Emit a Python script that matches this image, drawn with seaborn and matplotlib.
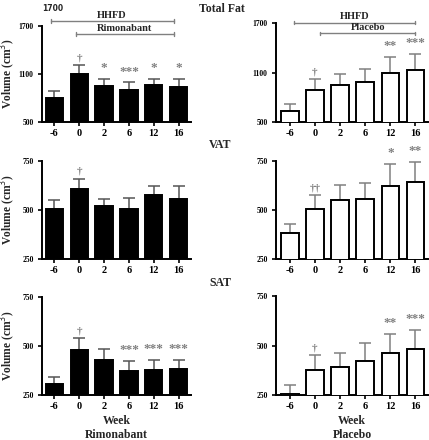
import matplotlib
matplotlib.use("Agg")
import matplotlib.pyplot as plt
import seaborn as sns
import pandas as pd

sns.set_style("ticks")
plt.rcParams['font.family'] = ['Liberation Serif', 'DejaVu Serif']

weeks = ["-6", "0", "2", "6", "12", "16"]

# Rimonabant (left column)
rim_total = [805, 1095, 955, 895, 958, 933]
rim_total_err = [82, 117, 87, 100, 83, 108]
rim_vat = [502, 608, 520, 505, 574, 557]
rim_vat_err = [46, 51, 36, 54, 48, 63]
rim_sat = [309, 478, 427, 372, 380, 382]
rim_sat_err = [32, 61, 56, 52, 47, 45]

# Placebo (right column)
pla_total = [635, 884, 946, 982, 1092, 1129]
pla_total_err = [86, 135, 134, 163, 204, 196]
pla_vat = [382, 505, 549, 554, 623, 640]
pla_vat_err = [47, 69, 76, 85, 112, 102]
pla_sat = [258, 377, 395, 425, 464, 481]
pla_sat_err = [46, 74, 70, 88, 97, 98]

rim_total_marks = ["", "†", "*", "***", "*", "*"]
rim_vat_marks = ["", "†", "", "", "", ""]
rim_sat_marks = ["", "†", "", "***", "***", "***"]
pla_total_marks = ["", "†", "", "", "**", "***"]
pla_vat_marks = ["", "††", "", "", "*", "**"]
pla_sat_marks = ["", "†", "", "", "**", "***"]

row_titles = ["Total Fat", "VAT", "SAT"]
col_titles = ["Rimonabant", "Placebo"]
ylims = [(500, 1700), (250, 750), (250, 750)]
yticks = [[500, 1100, 1700], [250, 500, 750], [250, 500, 750]]

fig = plt.figure(figsize=(4.29, 4.40), dpi=100)

W, H = 429.0, 440.0
def box(x0, y0, x1, y1):
    return [x0 / W, 1 - y1 / H, (x1 - x0) / W, (y1 - y0) / H]

pos = [
    [box(42, 26, 191, 122), box(276, 23.5, 428, 121.7)],
    [box(42, 160.7, 191, 259), box(276, 160.7, 428, 259.3)],
    [box(42, 296.7, 191, 395.3), box(276, 296, 428, 395.3)],
]

data = [
    [(rim_total, rim_total_err, rim_total_marks), (pla_total, pla_total_err, pla_total_marks)],
    [(rim_vat, rim_vat_err, rim_vat_marks), (pla_vat, pla_vat_err, pla_vat_marks)],
    [(rim_sat, rim_sat_err, rim_sat_marks), (pla_sat, pla_sat_err, pla_sat_marks)],
]

gray = "#808080"
axes = {}
for r in range(3):
    for c in range(2):
        ax = fig.add_axes(pos[r][c])
        axes[(r, c)] = ax
        vals, errs, marks = data[r][c]
        df = pd.DataFrame({"week": weeks, "vol": vals})
        face = "black" if c == 0 else "white"
        sns.barplot(data=df, x="week", y="vol", order=weeks, ax=ax,
                    color=face, edgecolor="black", linewidth=1.4,
                    width=0.7, errorbar=None, saturation=1, zorder=3)
        xs = list(range(len(weeks)))
        ecol = "#555555" if c == 0 else gray
        ax.errorbar(xs, vals, yerr=[[0] * len(vals), errs], fmt="none",
                    ecolor=ecol, elinewidth=1.1, capsize=4, capthick=1.1, zorder=2)
        lo, hi = ylims[r]
        span = hi - lo
        for x, v, e, m in zip(xs, vals, errs, marks):
            if m:
                dag = "†" in m
                fs = 8 if dag else 9.5
                off = 0.03 if dag else 0.05
                ax.text(x, v + e + span * off, m, ha="center", va="bottom",
                        color=gray, fontsize=fs, fontweight="bold",
                        family=['Liberation Serif', 'DejaVu Sans'])
        ax.set_ylim(lo, hi)
        ax.set_xlim(-0.5 if c == 0 else -0.55, 5.5)
        ax.set_yticks(yticks[r])
        ax.set_yticklabels([str(t) for t in yticks[r]], fontsize=5.5, fontweight="bold")
        ax.set_xticks(xs)
        ax.set_xticklabels(weeks, fontsize=7.5, fontweight="bold")
        ax.set_xlabel("")
        ax.set_ylabel("")
        for s in ["top", "right"]:
            ax.spines[s].set_visible(False)
        for s in ["left", "bottom"]:
            ax.spines[s].set_linewidth(1.4)
            ax.spines[s].set_color("black")
        ax.tick_params(axis="both", width=1.2, length=3, pad=2, colors="black")
        ax.tick_params(axis="y", pad=3)
        ax.set_facecolor("white")
        if c == 0:
            ax.set_ylabel("Volume (cm$^3$)", fontsize=8.3, fontweight="bold", va="center")
            ax.yaxis.set_label_coords(-0.222, 0.5)
        if r == 2:
            ax.set_xlabel("Week", fontsize=8.5, fontweight="bold", labelpad=3)

# Row titles
fig.text(222 / W, 1 - 8.5 / H, "Total Fat", ha="center", va="center", fontsize=8.5, fontweight="bold")
fig.text(220 / W, 1 - 145 / H, "VAT", ha="center", va="center", fontsize=8.5, fontweight="bold")
fig.text(220 / W, 1 - 283 / H, "SAT", ha="center", va="center", fontsize=8.5, fontweight="bold")

# Column labels
fig.text(116 / W, 1 - 435 / H, "Rimonabant", ha="center", va="center", fontsize=8.5, fontweight="bold")
fig.text(352 / W, 1 - 435 / H, "Placebo", ha="center", va="center", fontsize=8.5, fontweight="bold")

# stray label
fig.text(53 / W, 1 - 8.5 / H, "1700", ha="center", va="center", fontsize=5.5,
         fontweight="bold", family="DejaVu Sans")

# Treatment brackets
def bracket(ax, x0, x1, y, label, lo, hi):
    span = hi - lo
    ax.plot([x0, x1], [y, y], color=gray, lw=1.0, clip_on=False, zorder=4)
    for xx in (x0, x1):
        ax.plot([xx, xx], [y - span * 0.02, y + span * 0.02], color=gray, lw=1.0,
                clip_on=False, zorder=4)
    ax.text((x0 + x1) / 2, y + span * 0.012, label, ha="center", va="bottom",
            fontsize=7.5, fontweight="bold", zorder=5)

bracket(axes[(0, 0)], -0.15, 4.8, 1762, "HHFD", 500, 1700)
bracket(axes[(0, 0)], 0.85, 4.8, 1604, "Rimonabant", 500, 1700)
bracket(axes[(0, 1)], 0.17, 5.0, 1712, "HHFD", 500, 1700)
bracket(axes[(0, 1)], 1.2, 5.0, 1578, "Placebo", 500, 1700)

fig.savefig("out.png", dpi=100, facecolor="white")
